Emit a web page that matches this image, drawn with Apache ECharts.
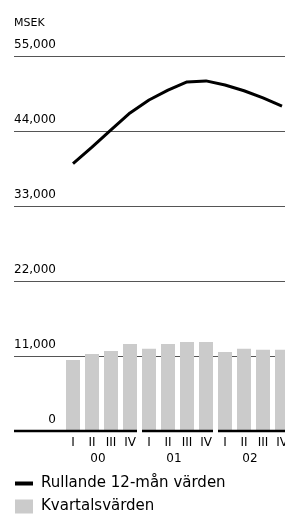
<!DOCTYPE html>
<html>
<head>
<meta charset="utf-8">
<script src="https://cdn.jsdelivr.net/npm/echarts@6/dist/echarts.min.js"></script>
<style>
  html, body { margin: 0; padding: 0; background: #fff; overflow: hidden; }
  /* drawn a little wider than the window: the last bar runs off the right edge */
  #chart { width: 300px; height: 515px; }
</style>
</head>
<body>
<div id="chart"></div>
<script>
// chart data
const quarters = ["I", "II", "III", "IV", "I", "II", "III", "IV", "I", "II", "III", "IV"];
const years = ["00", "01", "02"];
const quarterValues = [10400, 11300, 11750, 12750, 12050, 12750, 13050, 13050, 11600, 12050, 11900, 11900];
const rolling12 = [39200, 41650, 44150, 46650, 48550, 50000, 51200, 51350, 50750, 49900, 48850, 47650];
const yMax = 55000;
const yStep = 11000;

const FONT = "DejaVu Sans";
const GRID_LEFT = 14;
const BAR_W = 14;

// one baseline segment per year, spanning its four quarters
const yearSpans = years.map((y, i) => [i * 4, i * 4 + 3]);

const myChart = echarts.init(document.getElementById("chart"));

const option = {
  animation: false,
  textStyle: { fontFamily: FONT, color: "#000" },
  title: {
    text: "MSEK",
    left: 14,
    top: 18,
    padding: 0,
    textStyle: { fontFamily: FONT, fontSize: 11, fontWeight: "normal", color: "#000" },
  },
  // grid 0 holds the gridlines and value labels, grid 1 the quarters
  grid: [
    { left: GRID_LEFT, right: 6, top: 56, bottom: 84 },
    { left: 63.5, right: 8.5, top: 56, bottom: 84 },
  ],
  xAxis: [
    { gridIndex: 0, type: "value", min: 0, max: 1, show: false },
    {
      gridIndex: 1,
      type: "category",
      data: quarters,
      position: "bottom",
      axisLine: { show: false },
      axisTick: { show: false },
      axisLabel: { margin: 6, fontSize: 12, color: "#000", interval: 0 },
    },
    {
      gridIndex: 1,
      type: "category",
      data: years,
      position: "bottom",
      axisLine: { show: false },
      axisTick: { show: false },
      axisLabel: { margin: 22, fontSize: 12, color: "#000", padding: [0, 7, 0, 0] },
    },
  ],
  yAxis: [
    {
      gridIndex: 0,
      type: "value",
      min: 0,
      max: yMax,
      interval: yStep,
      axisLine: { show: false },
      axisTick: { show: false },
      splitLine: { show: true, showMinLine: false, lineStyle: { color: "#555", width: 1 } },
      axisLabel: {
        inside: true,
        align: "right",
        verticalAlign: "bottom",
        margin: 42,
        padding: [0, 0, 5, 0],
        fontSize: 12,
        color: "#000",
        formatter: (v) => v.toLocaleString("en-US"),
      },
    },
    { gridIndex: 1, type: "value", min: 0, max: yMax, show: false },
  ],
  legend: {
    orient: "vertical",
    left: 15,
    top: 476,
    itemWidth: 18,
    itemHeight: 14,
    itemGap: 8,
    padding: 0,
    symbolKeepAspect: true,
    selectedMode: false,
    textStyle: { fontFamily: FONT, fontSize: 15, lineHeight: 14, color: "#000", padding: [0, 0, 0, 3] },
    data: [
      { name: "Rullande 12-mån värden", icon: "path://M0 0H18V4H0Z" },
      { name: "Kvartalsvärden", icon: "rect" },
    ],
  },
  series: [
    {
      name: "Kvartalsvärden",
      type: "bar",
      xAxisIndex: 1,
      yAxisIndex: 1,
      data: quarterValues,
      barWidth: BAR_W,
      itemStyle: { color: "#cbcbcb" },
      z: 2,
    },
    {
      name: "Rullande 12-mån värden",
      type: "line",
      xAxisIndex: 1,
      yAxisIndex: 1,
      data: rolling12,
      showSymbol: false,
      color: "#000",
      lineStyle: { color: "#000", width: 3 },
      z: 4,
    },
    {
      // segmented zero line under each year
      type: "custom",
      xAxisIndex: 1,
      yAxisIndex: 1,
      data: yearSpans,
      clip: false,
      z: 3,
      renderItem: (params, api) => {
        const start = api.coord([api.value(0), 0]);
        const end = api.coord([api.value(1), 0]);
        const x0 = params.dataIndex === 0 ? GRID_LEFT : start[0] - BAR_W / 2;
        const x1 = end[0] + BAR_W / 2;
        return {
          type: "line",
          shape: { x1: x0, y1: start[1], x2: x1, y2: start[1] },
          style: { stroke: "#000", lineWidth: 2.5 },
        };
      },
    },
  ],
};

myChart.setOption(option);
</script>
</body>
</html>
